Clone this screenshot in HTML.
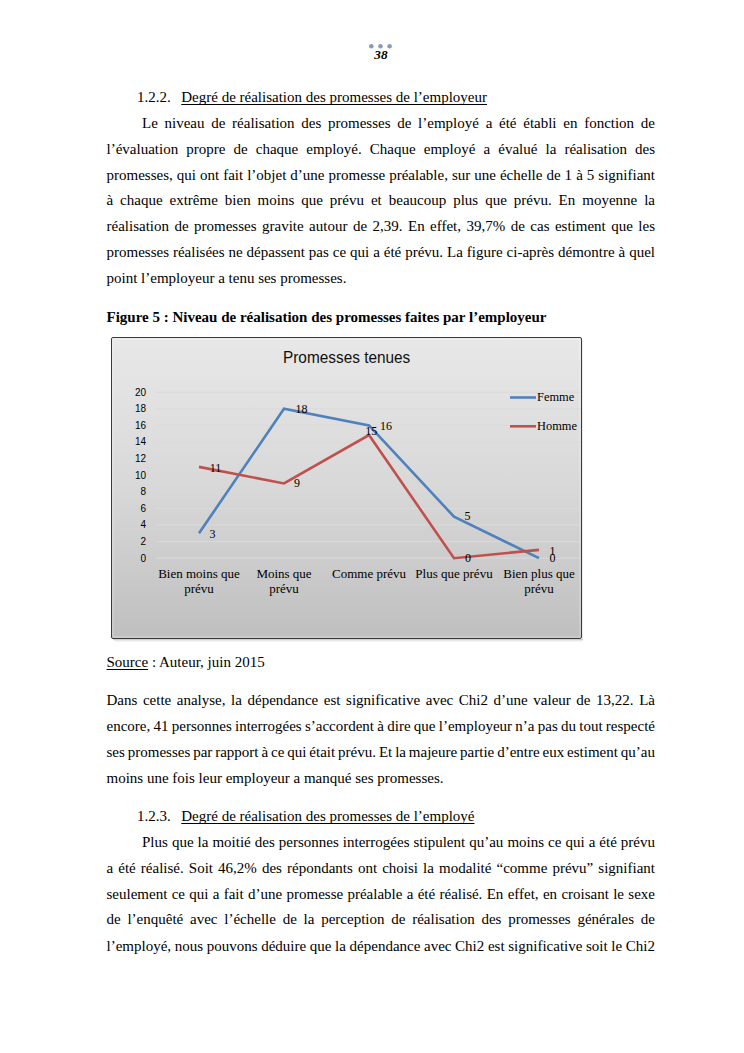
<!DOCTYPE html>
<html><head><meta charset="utf-8">
<style>
html,body{margin:0;padding:0;background:#fff;}
body{width:744px;height:1053px;position:relative;overflow:hidden;font-family:"Liberation Serif",serif;color:#000;}
.l{position:absolute;left:106.5px;width:548.5px;font-size:15px;line-height:16px;white-space:nowrap;}
.j{text-align:justify;text-align-last:justify;white-space:normal;}
.u{text-decoration:underline;text-underline-offset:2px;text-decoration-thickness:1px;text-decoration-skip-ink:none;}
.dot{position:absolute;width:4px;height:4px;border-radius:50%;background:#8c9cb9;top:45px;}
#chart{position:absolute;left:0;top:0;}
</style></head><body>
<svg style="position:absolute;left:0;top:0" width="744" height="60"><g fill="#8a9aba"><circle cx="371.3" cy="46.3" r="2.3"/><circle cx="380.5" cy="46.3" r="2.3"/><circle cx="389.6" cy="46.3" r="2.3"/></g></svg>
<div style="position:absolute;left:374.3px;top:46.6px;font:italic bold 13.3px 'Liberation Serif';line-height:16px">38</div>

<div class="l" style="left:137px;top:89px">1.2.2.<span style="display:inline-block;width:10.5px"></span><span class="u">Degré de réalisation des promesses de l’employeur</span></div>
<div class="l j" style="left:142px;width:513px;top:115px">Le niveau de réalisation des promesses de l’employé a été établi en fonction de</div>
<div class="l j" style="top:141px">l’évaluation propre de chaque employé. Chaque employé a évalué la réalisation des</div>
<div class="l j" style="top:167px">promesses, qui ont fait l’objet d’une promesse préalable, sur une échelle de 1 à 5 signifiant</div>
<div class="l j" style="top:192px">à chaque extrême bien moins que prévu et beaucoup plus que prévu. En moyenne la</div>
<div class="l j" style="top:218px">réalisation de promesses gravite autour de 2,39. En effet, 39,7% de cas estiment que les</div>
<div class="l j" style="top:244px">promesses réalisées ne dépassent pas ce qui a été prévu. La figure ci-après démontre à quel</div>
<div class="l" style="top:270px">point l’employeur a tenu ses promesses.</div>

<div class="l" style="top:309px;font-weight:bold">Figure 5 : Niveau de réalisation des promesses faites par l’employeur</div>

<svg id="chart" width="744" height="660" viewBox="0 0 744 660">
<defs>
<linearGradient id="bg" x1="0" y1="0" x2="0" y2="1">
<stop offset="0" stop-color="#e8e8e8"/>
<stop offset="0.5" stop-color="#d8d8d8"/>
<stop offset="1" stop-color="#bfbfbf"/>
</linearGradient>
</defs>
<rect x="113" y="639" width="470" height="1" fill="#000" opacity="0.18"/>
<rect x="114" y="640" width="469" height="1" fill="#000" opacity="0.09"/>
<rect x="115" y="641" width="467" height="1" fill="#000" opacity="0.04"/>
<rect x="582" y="340" width="1" height="300" fill="#000" opacity="0.08"/>
<rect x="111.5" y="337.5" width="470" height="301" rx="1.5" fill="url(#bg)" stroke="#3a3a3a" stroke-width="1"/>
<rect x="113" y="339" width="467" height="298" fill="none" stroke="#fff" stroke-width="1" opacity="0.35"/>
<text x="283" y="363" font-family="Liberation Sans" font-size="16.6" textLength="127.3" lengthAdjust="spacingAndGlyphs" fill="#111">Promesses tenues</text>
<g stroke="#dadada" stroke-width="1">
<line x1="156" x2="581" y1="392.2" y2="392.2"/>
<line x1="156" x2="581" y1="408.8" y2="408.8"/>
<line x1="156" x2="581" y1="425.4" y2="425.4"/>
<line x1="156" x2="581" y1="442" y2="442"/>
<line x1="156" x2="581" y1="458.6" y2="458.6"/>
<line x1="156" x2="581" y1="475.2" y2="475.2"/>
<line x1="156" x2="581" y1="491.8" y2="491.8"/>
<line x1="156" x2="581" y1="508.4" y2="508.4"/>
<line x1="156" x2="581" y1="525" y2="525"/>
<line x1="156" x2="581" y1="541.6" y2="541.6"/>
<line x1="156" x2="581" y1="558.2" y2="558.2"/>
</g>
<g font-family="Liberation Sans" font-size="10" text-anchor="end" fill="#000">
<text x="146" y="395.5">20</text>
<text x="146" y="412.1">18</text>
<text x="146" y="428.7">16</text>
<text x="146" y="445.3">14</text>
<text x="146" y="461.9">12</text>
<text x="146" y="478.5">10</text>
<text x="146" y="495.1">8</text>
<text x="146" y="511.7">6</text>
<text x="146" y="528.3">4</text>
<text x="146" y="544.9">2</text>
<text x="146" y="561.5">0</text>
</g>
<g font-family="Liberation Serif" font-size="13" text-anchor="middle" fill="#000">
<text x="199" y="577.5">Bien moins que</text><text x="199" y="592.5">prévu</text>
<text x="284" y="577.5">Moins que</text><text x="284" y="592.5">prévu</text>
<text x="369" y="577.5">Comme prévu</text>
<text x="454" y="577.5">Plus que prévu</text>
<text x="539" y="577.5">Bien plus que</text><text x="539" y="592.5">prévu</text>
</g>
<polyline points="199,533.3 284,408.8 369,425.4 454,516.7 539,558.2" fill="none" stroke="#4f81bd" stroke-width="2.6" stroke-linejoin="miter"/>
<polyline points="199,466.9 284,483.5 369,435 454,558.2 539,549.9" fill="none" stroke="#c0504d" stroke-width="2.6" stroke-linejoin="miter"/>
<line x1="510" x2="536" y1="397.5" y2="397.5" stroke="#4f81bd" stroke-width="2.6"/>
<line x1="510" x2="536" y1="426.3" y2="426.3" stroke="#c0504d" stroke-width="2.6"/>
<g font-family="Liberation Serif" font-size="12" fill="#000">
<text x="537" y="401" font-size="12.4">Femme</text>
<text x="537" y="430" font-size="12.4">Homme</text>
<text x="209.5" y="537.5">3</text>
<text x="295.5" y="412.8">18</text>
<text x="380" y="429.5">16</text>
<text x="464.5" y="520.2">5</text>
<text x="549.5" y="562">0</text>
<text x="209.8" y="471.8">11</text>
<text x="294" y="487.2">9</text>
<text x="365.2" y="435.2">15</text>
<text x="465" y="562.3">0</text>
<text x="549.5" y="554.5">1</text>
</g>
</svg>

<div class="l" style="top:654px"><span class="u">Source</span> : Auteur, juin 2015</div>

<div class="l j" style="top:692px">Dans cette analyse, la dépendance est significative avec Chi2 d’une valeur de 13,22. Là</div>
<div class="l j" style="top:718px;word-spacing:-0.6px">encore, 41 personnes interrogées s’accordent à dire que l’employeur n’a pas du tout respecté</div>
<div class="l j" style="top:744px;word-spacing:-0.95px">ses promesses par rapport à ce qui était prévu. Et la majeure partie d’entre eux estiment qu’au</div>
<div class="l" style="top:770px">moins une fois leur employeur a manqué ses promesses.</div>

<div class="l" style="left:137px;top:808px">1.2.3.<span style="display:inline-block;width:10.5px"></span><span class="u">Degré de réalisation des promesses de l’employé</span></div>
<div class="l j" style="left:142px;width:513px;top:834px">Plus que la moitié des personnes interrogées stipulent qu’au moins ce qui a été prévu</div>
<div class="l j" style="top:860px">a été réalisé. Soit 46,2% des répondants ont choisi la modalité “comme prévu” signifiant</div>
<div class="l j" style="top:886px">seulement ce qui a fait d’une promesse préalable a été réalisé. En effet, en croisant le sexe</div>
<div class="l j" style="top:911px">de l’enquêté avec l’échelle de la perception de réalisation des promesses générales de</div>
<div class="l j" style="top:938px;word-spacing:-0.2px">l’employé, nous pouvons déduire que la dépendance avec Chi2 est significative soit le Chi2</div>
</body></html>
